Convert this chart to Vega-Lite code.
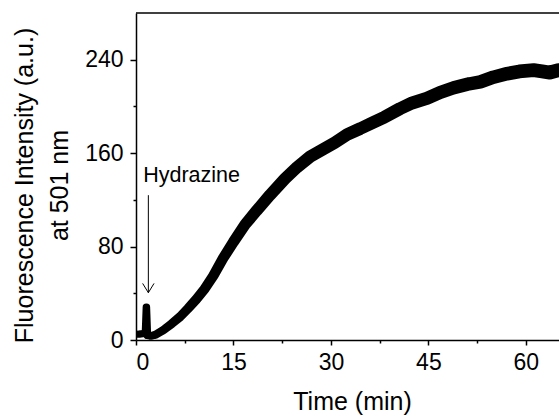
{
  "$schema": "https://vega.github.io/schema/vega-lite/v6.json",
  "width": 423,
  "height": 327,
  "autosize": "none",
  "padding": {"left": 136, "top": 13, "right": 0, "bottom": 76},
  "background": "white",
  "config": {
    "view": {"stroke": null},
    "font": "Liberation Sans",
    "axis": {
      "grid": false,
      "domainColor": "black",
      "domainWidth": 1.5,
      "tickColor": "black",
      "tickWidth": 1.5,
      "labelColor": "black",
      "titleColor": "black",
      "labelFont": "Liberation Sans",
      "titleFont": "Liberation Sans",
      "titleFontWeight": "normal",
      "labelFontSize": 23,
      "titleFontSize": 25
    }
  },
  "datasets": {
    "curve": [
      {"t": 0, "v": 5}, {"t": 0.5, "v": 5}, {"t": 1, "v": 5.5}, {"t": 1.45, "v": 6},
      {"t": 1.6, "v": 28}, {"t": 1.75, "v": 4}, {"t": 2.3, "v": 3.5}, {"t": 3, "v": 4.5},
      {"t": 4.2, "v": 8.5}, {"t": 5.5, "v": 14}, {"t": 6.8, "v": 20}, {"t": 8, "v": 27},
      {"t": 9.3, "v": 35}, {"t": 10.6, "v": 44}, {"t": 11.9, "v": 55}, {"t": 13.4, "v": 70},
      {"t": 15, "v": 84}, {"t": 16.8, "v": 99}, {"t": 18.6, "v": 111}, {"t": 20.6, "v": 124},
      {"t": 22.9, "v": 138}, {"t": 24.8, "v": 148}, {"t": 26.8, "v": 157}, {"t": 28.7, "v": 163},
      {"t": 30.6, "v": 169}, {"t": 32.5, "v": 176}, {"t": 34.5, "v": 181}, {"t": 36.4, "v": 186},
      {"t": 38.3, "v": 191}, {"t": 40.6, "v": 198}, {"t": 42.5, "v": 203}, {"t": 44.8, "v": 207},
      {"t": 46.8, "v": 212}, {"t": 48.9, "v": 216}, {"t": 51, "v": 219}, {"t": 53, "v": 221},
      {"t": 55, "v": 225}, {"t": 57.1, "v": 228}, {"t": 59, "v": 230}, {"t": 61.2, "v": 231},
      {"t": 62.5, "v": 230}, {"t": 63.7, "v": 229}, {"t": 65, "v": 231}
    ],
    "arrow": [{"t": 1.9, "v": 124, "tip": 40.5}],
    "head": [{"t": 1.9, "v": 40.5}],
    "note": [{"t": 1.1, "v": 135, "label": "Hydrazine"}],
    "frame": [{"v": 280}]
  },
  "encoding": {
    "x": {
      "field": "t", "type": "quantitative",
      "scale": {"domain": [0, 65.1], "nice": false},
      "axis": {
        "title": "Time (min)",
        "values": [0, 7.5, 15, 22.5, 30, 37.5, 45, 52.5, 60],
        "labelExpr": "datum.value % 15 === 0 ? datum.label : ''",
        "tickSize": {"condition": {"test": "datum.value % 15 !== 0", "value": 3}, "value": 5},
        "labelPadding": 6,
        "titlePadding": 15,
        "titleX": 216
      }
    },
    "y": {
      "field": "v", "type": "quantitative",
      "scale": {"domain": [0, 280], "nice": false},
      "axis": {
        "title": ["Fluorescence Intensity (a.u.)", "at 501 nm"],
        "values": [0, 40, 80, 120, 160, 200, 240],
        "labelExpr": "datum.value % 80 === 0 ? datum.label : ''",
        "tickSize": {"condition": {"test": "datum.value % 80 !== 0", "value": 3}, "value": 6},
        "labelPadding": 7,
        "titleLineHeight": 35,
        "titleBaseline": "alphabetic",
        "titleAlign": "center",
        "titleAngle": -90,
        "titleX": -104,
        "titleY": 172
      }
    }
  },
  "layer": [
    {
      "data": {"name": "frame"},
      "mark": {"type": "rule", "strokeWidth": 1.5, "color": "black"},
      "encoding": {"x": null}
    },
    {
      "data": {"name": "curve"},
      "mark": {"type": "trail", "color": "black", "clip": true},
      "encoding": {
        "size": {
          "field": "t", "type": "quantitative",
          "scale": {"domain": [0, 6, 20, 65], "range": [7, 9, 12, 14]},
          "legend": null
        }
      }
    },
    {
      "data": {"name": "arrow"},
      "mark": {"type": "rule", "color": "black", "strokeWidth": 1},
      "encoding": {"y2": {"field": "tip"}}
    },
    {
      "data": {"name": "head"},
      "mark": {"type": "point", "shape": "M-1,-1.63L0,0L1,-1.63", "size": 130, "filled": false, "stroke": "black", "strokeWidth": 1, "opacity": 1}
    },
    {
      "data": {"name": "note"},
      "mark": {"type": "text", "align": "left", "baseline": "alphabetic", "fontSize": 21.5, "font": "Liberation Sans", "color": "black"},
      "encoding": {"text": {"field": "label"}}
    }
  ]
}
